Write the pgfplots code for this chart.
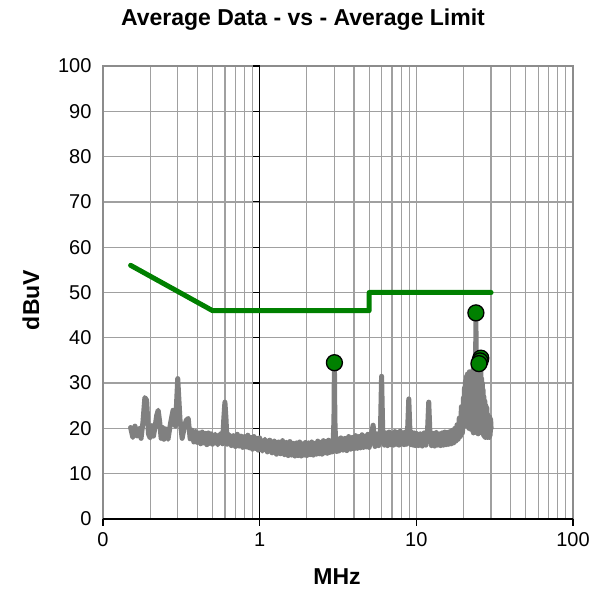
\documentclass[border=0pt]{standalone}
\usepackage{pgfplots}
\pgfplotsset{compat=1.18}
\usepackage{fontspec}
\setmainfont{Liberation Sans}
\definecolor{limgreen}{HTML}{008000}
\definecolor{datagray}{HTML}{808080}
\definecolor{gridgray}{HTML}{A0A0A0}
\definecolor{framegray}{HTML}{8C8C8C}
\begin{document}
\begin{tikzpicture}[x=1pt,y=1pt]
\useasboundingbox (0,0) rectangle (597,592);
\node[font=\fontsize{23}{23}\selectfont\bfseries] at (303,572) {Average Data - vs - Average Limit};
\node[font=\fontsize{23}{23}\selectfont\bfseries] at (337,15) {MHz};
\node[font=\fontsize{23}{23}\selectfont\bfseries, rotate=90] at (31,292) {dBuV};
\begin{axis}[
  at={(103pt,73pt)}, anchor=south west,
  width=470pt, height=453pt, scale only axis,
  xmode=log, log basis x=10,
  xmin=0.1, xmax=100, ymin=0, ymax=100,
  xtick={0.1,1,10,100}, xticklabels={0,1,10,100},
  ytick={0,10,...,100},
  axis line style={draw=framegray, line width=2pt},
  xtick pos=bottom, ytick pos=left,
  major tick length=0pt, minor tick length=0pt,
  tick label style={font=\fontsize{20}{20}\selectfont},
  xticklabel style={yshift=-10pt},
  yticklabel style={xshift=-8pt},
  /pgf/number format/assume math mode=true,
  clip=false,
]
% grid
\pgfplotsinvokeforeach{10,20,30,40,50,60,70,80,90}{
  \draw[gridgray, line width=1.3pt] (axis cs:0.1,#1) -- (axis cs:100,#1);
}
\pgfplotsinvokeforeach{0.2,0.3,0.4,0.5,0.6,0.7,0.8,0.9,2,3,4,5,6,7,8,9,10,20,30,40,50,60,70,80,90}{
  \draw[gridgray, line width=1.3pt] (axis cs:#1,0) -- (axis cs:#1,100);
}
\draw[framegray, line width=2pt] (rel axis cs:0,0) rectangle (rel axis cs:1,1);
\draw[black, line width=1.3pt] (axis cs:1,0) -- (axis cs:1,100);
\pgfplotsinvokeforeach{0,10,20,30,40,50,60,70,80,90,100}{
  \draw[black, line width=1.2pt] (axis cs:1,#1) -- ([xshift=-7pt]axis cs:1,#1);
}
\pgfplotsinvokeforeach{0.1,1,10,100}{
  \draw[black, line width=1.2pt] (axis cs:#1,0) -- ([yshift=-7pt]axis cs:#1,0);
}
\draw[black, line width=1.5pt] (rel axis cs:0,0) -- (rel axis cs:1,0);
% measured data (average detector)
\addplot[datagray, line width=5pt, line join=round, line cap=round] coordinates {
(0.150,20.2)(0.155,18.0)(0.160,20.5)(0.165,18.3)(0.170,20.0)(0.175,17.8)(0.180,21.5)(0.185,26.8)(0.190,26.2)(0.195,18.8)
(0.200,17.9)(0.205,20.6)(0.210,18.3)(0.215,20.4)(0.220,22.8)(0.225,24.0)(0.230,21.5)(0.235,17.8)(0.240,20.2)(0.245,17.6)
(0.250,19.9)(0.260,17.6)(0.270,21.2)(0.280,24.0)(0.290,20.5)(0.300,31.0)(0.310,22.0)(0.320,17.8)(0.330,20.2)(0.340,21.8)
(0.350,22.2)(0.360,17.7)(0.370,19.6)(0.380,17.0)(0.390,19.3)(0.400,16.9)(0.410,19.0)(0.420,16.6)(0.430,19.2)(0.440,16.8)
(0.450,18.9)(0.460,16.4)(0.470,19.0)(0.480,16.7)(0.490,18.8)(0.500,16.5)(0.520,18.7)(0.540,16.4)(0.560,18.8)(0.580,16.6)
(0.590,22.0)(0.600,25.8)(0.610,22.0)(0.620,16.5)(0.640,18.6)(0.660,16.2)(0.680,18.4)(0.700,16.0)(0.720,18.7)(0.740,16.1)
(0.760,18.3)(0.780,15.8)(0.800,18.2)(0.820,15.9)(0.840,18.5)(0.860,15.7)(0.880,18.0)(0.900,15.4)(0.920,18.2)(0.940,15.6)
(0.960,17.8)(0.980,15.2)(1.000,17.9)(1.040,15.0)(1.080,17.6)(1.120,14.8)(1.160,17.4)(1.200,14.6)(1.240,17.2)(1.280,14.3)
(1.320,17.0)(1.360,14.4)(1.400,17.3)(1.440,14.2)(1.480,16.9)(1.520,14.0)(1.560,17.1)(1.600,14.1)(1.640,16.7)(1.680,13.9)
(1.720,16.8)(1.760,14.0)(1.800,17.0)(1.840,13.9)(1.880,16.6)(1.920,14.1)(1.960,16.9)(2.000,14.0)(2.050,16.8)(2.100,14.2)
(2.150,17.0)(2.200,14.1)(2.250,16.7)(2.300,14.3)(2.350,17.2)(2.400,14.4)(2.450,16.9)(2.500,14.3)(2.550,17.3)(2.600,14.6)
(2.650,17.1)(2.700,14.5)(2.750,17.4)(2.800,14.7)(2.850,17.2)(2.900,14.8)(2.950,17.6)(2.980,22.0)(3.000,34.5)(3.020,22.0)
(3.050,17.4)(3.100,14.9)(3.150,17.7)(3.200,15.0)(3.300,17.9)(3.400,15.2)(3.500,17.8)(3.600,15.1)(3.700,18.2)(3.800,15.4)
(3.900,18.0)(4.000,15.5)(4.100,18.4)(4.200,15.6)(4.300,18.2)(4.400,15.7)(4.500,18.6)(4.600,15.8)(4.700,18.3)(4.800,15.9)
(4.900,18.7)(5.000,15.8)(5.150,18.6)(5.300,20.7)(5.450,16.0)(5.600,18.8)(5.750,16.2)(5.900,19.3)(6.000,31.5)(6.100,19.8)
(6.250,16.3)(6.400,19.0)(6.550,16.2)(6.700,19.2)(6.850,16.4)(7.000,18.9)(7.150,16.3)(7.300,19.3)(7.450,16.5)(7.600,19.1)
(7.750,16.3)(7.900,19.4)(8.050,16.6)(8.200,19.0)(8.350,16.4)(8.500,19.2)(8.650,16.5)(8.800,19.8)(8.950,26.5)(9.100,19.5)
(9.250,16.4)(9.400,19.1)(9.550,16.3)(9.700,19.0)(9.850,16.2)(10.00,18.9)(10.30,16.2)(10.60,18.8)(10.90,16.1)(11.20,19.0)
(11.50,16.3)(11.80,19.8)(12.00,25.8)(12.20,19.3)(12.50,16.2)(12.80,18.9)(13.10,16.1)(13.40,19.1)(13.70,16.3)(14.00,18.8)
(14.30,16.2)(14.60,19.0)(14.90,16.3)(15.20,19.2)(15.50,16.4)(15.80,19.1)(16.10,16.5)(16.40,19.3)(16.70,16.6)(17.00,19.6)
(17.30,16.8)(17.60,20.0)(17.90,17.2)(18.20,20.8)(18.50,17.6)(18.80,22.3)(19.10,18.2)(19.40,24.8)(19.70,19.0)(20.00,26.8)
(20.15,20.5)(20.30,29.0)(20.45,21.0)(20.60,30.5)(20.75,22.0)(20.90,31.5)(21.05,21.5)(21.20,32.0)(21.35,20.5)(21.50,31.0)
(21.65,20.0)(21.80,32.5)(21.95,20.2)(22.10,31.0)(22.25,19.8)(22.40,32.0)(22.55,20.0)(22.70,31.5)(22.85,19.5)(23.00,33.0)
(23.15,19.0)(23.30,32.5)(23.50,19.2)(23.70,33.0)(23.90,33.5)(24.00,45.5)(24.10,34.0)(24.20,19.5)(24.35,33.5)(24.50,19.0)
(24.65,34.0)(24.80,18.8)(24.95,34.5)(25.10,34.3)(25.25,19.0)(25.40,34.9)(25.55,20.0)(25.80,35.5)(25.95,21.0)(26.10,31.0)
(26.25,20.5)(26.40,30.0)(26.55,19.5)(26.70,28.5)(26.85,18.5)(27.00,27.0)(27.20,18.2)(27.40,26.0)(27.60,18.0)(27.80,25.0)
(28.00,18.3)(28.20,24.5)(28.40,18.0)(28.60,23.0)(28.80,18.2)(29.00,22.5)(29.20,18.0)(29.40,22.5)(29.60,18.5)(29.80,22.0)
(30.00,20.0)
};
% average limit
\addplot[limgreen, line width=5pt, line join=round, line cap=round] coordinates {
(0.15,56) (0.5,46) (5,46) (5,50) (30,50)
};
% average results
\addplot[only marks, mark=*, mark size=8pt, mark options={fill=limgreen, draw=black, line width=1.3pt}] coordinates {
(3.0,34.5) (24.0,45.5) (25.8,35.5) (25.5,34.9) (25.1,34.3)
};
\end{axis}
\end{tikzpicture}
\end{document}
